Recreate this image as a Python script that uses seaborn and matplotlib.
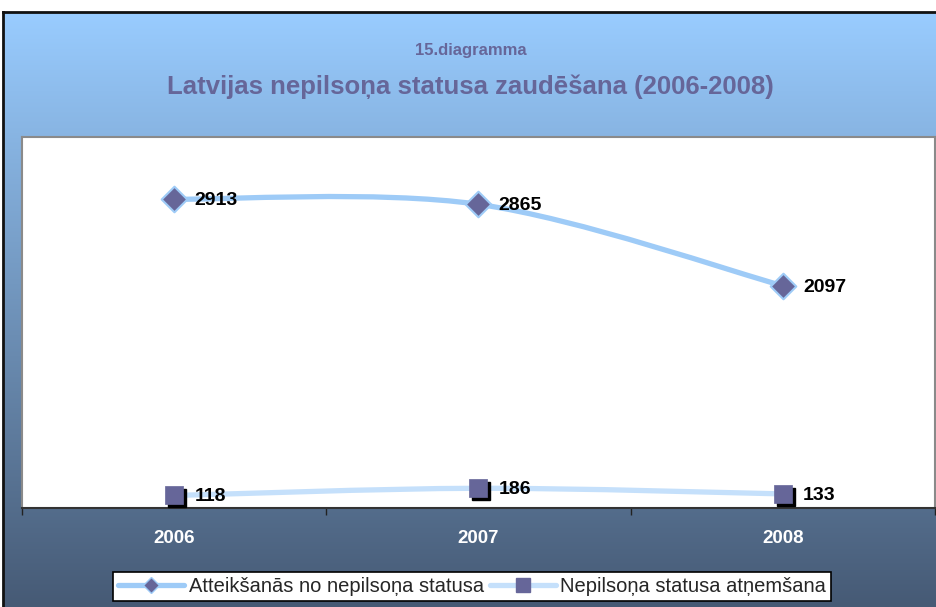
import numpy as np
import matplotlib
matplotlib.use("Agg")
import matplotlib.pyplot as plt
import seaborn as sns
from matplotlib.path import Path
from matplotlib.patches import PathPatch
from matplotlib.lines import Line2D
from matplotlib import transforms

# dati
years = ["2006", "2007", "2008"]
atteiksanas = [2913, 2865, 2097]
atnemsana = [118, 186, 133]
series_names = ["Atteikšanās no nepilsoņa statusa", "Nepilsoņa statusa atņemšana"]

sns.set_theme(style="white")
plt.rcParams["font.family"] = ["Liberation Sans", "DejaVu Sans"]

purple = "#666699"
blue1 = "#9ecbf7"
blue2 = "#c5e0fb"


def smooth_path(xs, ys):
    # Excel-ish smoothed line (Catmull-Rom -> cubic Bezier)
    pts = np.column_stack([xs, ys]).astype(float)
    verts = [pts[0]]
    codes = [Path.MOVETO]
    n = len(pts)
    for i in range(n - 1):
        p0 = pts[max(i - 1, 0)]
        p1 = pts[i]
        p2 = pts[i + 1]
        p3 = pts[min(i + 2, n - 1)]
        c1 = p1 + (p2 - p0) / 6.0
        c2 = p2 - (p3 - p1) / 6.0
        verts += [c1, c2, p2]
        codes += [Path.CURVE4] * 3
    return Path(verts, codes)


fig = plt.figure(figsize=(9.37, 6.07), dpi=100)
fig.patch.set_facecolor("white")

# fona gradients
bg = fig.add_axes([3 / 937, 0, 1 - 3 / 937, 595 / 607])
top_c = np.array([153, 204, 255]) / 255
bot_c = np.array([70, 90, 117]) / 255
t = np.linspace(0, 1, 256)[:, None]
grad = top_c[None, :] * (1 - t) + bot_c[None, :] * t
bg.imshow(grad[:, None, :], aspect="auto", extent=[0, 1, 0, 1])
bg.set_xlim(0, 1)
bg.set_ylim(0, 1)
bg.set_xticks([])
bg.set_yticks([])
for s in ["right", "bottom"]:
    bg.spines[s].set_visible(False)
for s in ["left", "top"]:
    bg.spines[s].set_color("#111111")
    bg.spines[s].set_linewidth(2)

ax = fig.add_axes([22 / 937, 99 / 607, 913 / 937, 371 / 607])
ax.set_facecolor("white")
x = np.arange(len(years))

ax.add_patch(PathPatch(smooth_path(x, atteiksanas), fill=False, edgecolor=blue1,
                       lw=3.8, capstyle="round", zorder=2))
ax.add_patch(PathPatch(smooth_path(x, atnemsana), fill=False, edgecolor=blue2,
                       lw=3.8, capstyle="round", zorder=2))

sns.scatterplot(x=x, y=atteiksanas, marker="D", s=170, color=purple,
                edgecolor=blue1, linewidth=1.5, ax=ax, zorder=4, legend=False)
shadow = transforms.offset_copy(ax.transData, fig=fig, x=3, y=-3, units="dots")
ax.plot(x, atnemsana, ls="", marker="s", ms=13, color="black", transform=shadow, zorder=3)
sns.scatterplot(x=x, y=atnemsana, marker="s", s=169, color=purple,
                edgecolor=purple, linewidth=0.5, ax=ax, zorder=4, legend=False)

for series in (atteiksanas, atnemsana):
    for xi, v in zip(x, series):
        ax.annotate(str(v), (xi, v), xytext=(14.5, -1), textcoords="offset points",
                    ha="left", va="center", fontsize=14, fontweight="bold",
                    color="black")

ax.set_xlim(-0.5, len(years) - 0.5)
ax.set_ylim(0, 3500)
ax.set_yticks([])
ax.set_xticks(x)
ax.set_xticklabels(years, fontsize=13.5, fontweight="bold", color="white")
ax.set_xticks(np.arange(-0.5, len(years)), minor=True)
ax.tick_params(axis="x", which="major", length=0, pad=16)
ax.tick_params(axis="x", which="minor", length=5, width=1, color="#222222",
               direction="out", bottom=True)
for s in ["left", "top", "right"]:
    ax.spines[s].set_color("#8a8a8a")
    ax.spines[s].set_linewidth(1.5)
ax.spines["bottom"].set_color("#333333")
ax.spines["bottom"].set_linewidth(1.5)

fig.text(0.502, 1 - 50 / 607, "15.diagramma", ha="center", va="center",
         fontsize=12, fontweight="bold", color=purple)
fig.text(0.502, 1 - 87 / 607, "Latvijas nepilsoņa statusa zaudēšana (2006-2008)",
         ha="center", va="center", fontsize=18.5, fontweight="bold", color=purple)

handles = [
    Line2D([], [], color=blue1, lw=3.8, marker="D", ms=8, mfc=purple, mec=blue1),
    Line2D([], [], color=blue2, lw=3.8, marker="s", ms=10, mfc=purple, mec=purple),
]
leg = fig.legend(handles, series_names, loc="upper left",
                 bbox_to_anchor=(113 / 937, 1 - 572 / 607), ncol=2,
                 fontsize=14.5, frameon=True, fancybox=False, handlelength=3.3,
                 handletextpad=0.2, columnspacing=0.3, borderpad=0.25,
                 borderaxespad=0)
leg.get_frame().set_edgecolor("black")
leg.get_frame().set_linewidth(1.2)
leg.get_frame().set_facecolor("white")
leg.get_frame().set_alpha(1)

fig.savefig("out.png", dpi=100)
